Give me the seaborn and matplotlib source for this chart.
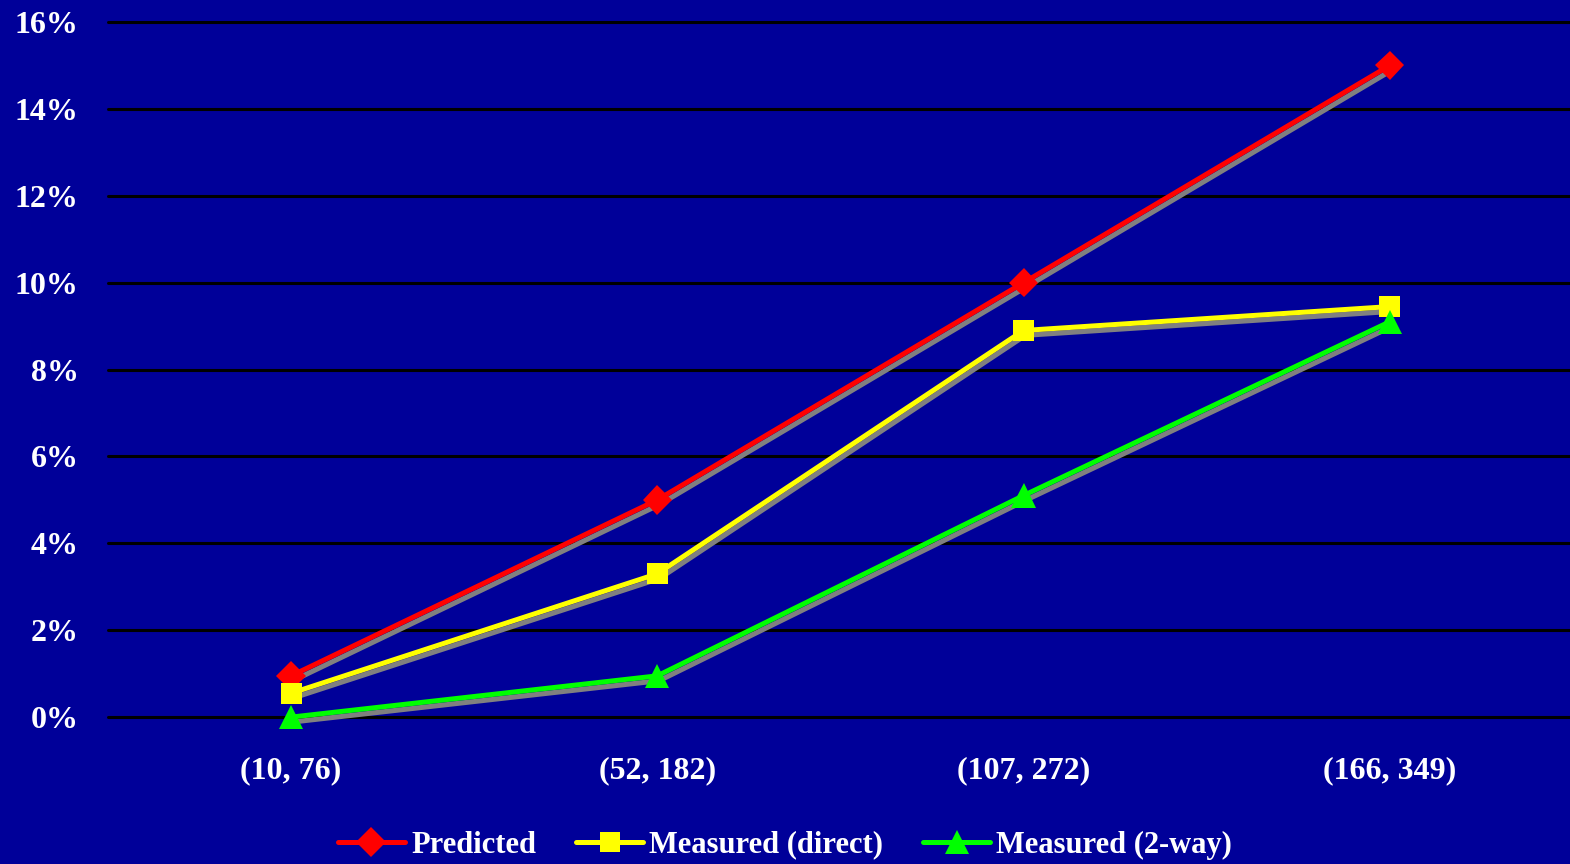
import pandas as pd
import numpy as np
import matplotlib.pyplot as plt
import matplotlib.patheffects as pe
import seaborn as sns

# data
categories = ['(10, 76)', '(52, 182)', '(107, 272)', '(166, 349)']
predicted = [0.95, 5.0, 10.0, 15.0]
measured_direct = [0.55, 3.3, 8.9, 9.45]
measured_2way = [0.0, 0.95, 5.1, 9.1]
series_names = ['Predicted', 'Measured (direct)', 'Measured (2-way)']

df = pd.DataFrame({
    'category': categories * 3,
    'value': predicted + measured_direct + measured_2way,
    'series': np.repeat(series_names, len(categories)),
})

bg = '#000099'
palette = {'Predicted': '#ff0000', 'Measured (direct)': '#ffff00', 'Measured (2-way)': '#00ff00'}
markers = {'Predicted': 'D', 'Measured (direct)': 's', 'Measured (2-way)': '^'}
msizes = {'Predicted': 15, 'Measured (direct)': 15, 'Measured (2-way)': 17.5}

sns.set_style('white')
plt.rcParams['font.family'] = ['Liberation Serif', 'DejaVu Serif']
plt.rcParams['font.weight'] = 'bold'

fig = plt.figure(figsize=(15.7, 8.64), dpi=100, facecolor=bg)
ax = fig.add_axes([0.0688, 0.170, 0.933, 0.8045])
ax.set_facecolor(bg)

sns.lineplot(data=df, x='category', y='value', hue='series', style='series',
             palette=palette, markers=markers, dashes=False, sort=False,
             linewidth=3.6, markersize=14, markeredgewidth=0, ax=ax, legend=False)

# grey drop shadow under each line, like the original
shadow = [pe.SimpleLineShadow(offset=(1.3, -3.5), shadow_color='#808080', alpha=1.0), pe.Normal()]
for line, name in zip(ax.get_lines(), series_names):
    line.set_path_effects(shadow)
    line.set_markersize(msizes[name])
    line.set_clip_on(False)
    line.set_zorder(3)

ax.set_xlim(-0.5, 3.5)
ax.set_ylim(0, 16)
ax.set_yticks(np.arange(0, 17, 2))
ax.set_yticklabels([f'{v}%' for v in range(0, 17, 2)])
ax.grid(axis='y', color='black', linewidth=2.2)
ax.grid(axis='x', visible=False)
for gl in ax.get_ygridlines():
    gl.set_clip_on(False)
ax.set_axisbelow(True)
for s in ax.spines.values():
    s.set_visible(False)
ax.tick_params(axis='both', colors='white', labelsize=23, length=0)
ax.tick_params(axis='y', pad=21)
ax.tick_params(axis='x', pad=28)
for lbl in ax.get_xticklabels() + ax.get_yticklabels():
    lbl.set_fontweight('bold')
ax.set_xlabel('')
ax.set_ylabel('')

handles = [plt.Line2D([], [], color=palette[n], marker=markers[n], linewidth=3.6,
                      markersize=msizes[n], markeredgewidth=0) for n in series_names]
leg = fig.legend(handles, series_names, loc='center', bbox_to_anchor=(0.5, 0.022),
                 ncol=3, frameon=False, fontsize=22, handlelength=2.2,
                 handletextpad=0.2, columnspacing=1.3)
for t in leg.get_texts():
    t.set_color('white')
    t.set_fontweight('bold')

fig.savefig('out.png', dpi=100, facecolor=bg)
